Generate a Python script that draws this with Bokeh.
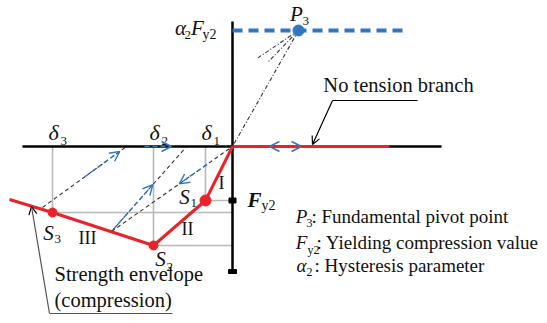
from bokeh.plotting import figure
from bokeh.models import Range1d, Arrow, OpenHead
from bokeh.core.properties import value
from bokeh.embed import file_html
from bokeh.resources import INLINE

# ---- schematic data (displacement x, force y; compression negative) ----
env_x = [0, -27, -79, -180, -223]          # origin, S1, S2, S3, tail
env_y = [0, -54, -99, -66, -53]
delta = [-27, -79, -180]                   # delta1, delta2, delta3
S_y = [-54, -99, -66]                      # S1, S2, S3 force
Fy2 = -54
p3_x = 66
alpha2_Fy2 = 116
axis_x = [-210, 209]
axis_y = [-125, 125]
no_tension_end = 157
pivot_line_end = 170
# unloading / reloading lines: start on envelope, end on displacement axis
unl_x0 = [-190, -121, -121]
unl_y0 = [-61, -85, -85]
unl_x1 = [-106, -46, 0]
ray_frac = [0.24, 0.28, 1.0]               # drawn part of pivot rays from P3
# blue path arrows as fractions along the unloading lines (start, end)
arrow_frac = [(0.5, 0.92), (0.02, 0.55), (0.79, 0.56)]
axis_arrow = (-88, -61)
chevron_c, chevron_l, chevron_r = 53, 37, 69

RED = "#e8232a"
BLUE = "#2f77c0"
GREY = "#b8b8b8"
DARK = "#333333"
FONT = value("Liberation Serif")

p = figure(width=538, height=314, x_range=Range1d(-232, 306), y_range=Range1d(-168, 146),
           output_backend="svg", toolbar_location=None, x_axis_location=None,
           y_axis_location=None, min_border=0, outline_line_color=None)
p.grid.visible = False

# grey projection lines
for d, s in zip(delta, S_y):
    p.line([d, d], [0, s], color=GREY, line_width=1.6)
    p.line([d, 0], [s, s], color=GREY, line_width=1.6)

# unloading dashed lines
for x0, y0, x1 in zip(unl_x0, unl_y0, unl_x1):
    p.line([x0, x1], [y0, 0], color=DARK, line_width=1.1, line_dash="4 3")

# pivot rays from P3
for x1, f in zip(unl_x1, ray_frac):
    xe = p3_x + (x1 - p3_x) * f
    ye = alpha2_Fy2 + (0 - alpha2_Fy2) * f
    p.line([p3_x, xe], [alpha2_Fy2, ye], color=DARK, line_width=1.1, line_dash="4 2 1 2")

# axes
p.line(axis_x, [0, 0], color="black", line_width=2.5)
p.line([0, 0], axis_y, color="black", line_width=2.5)
p.rect(x=[0], y=[Fy2], width=7, height=5, width_units="screen", height_units="screen", color="black")
p.rect(x=[0], y=[axis_y[0]], width=8, height=4, width_units="screen", height_units="screen", color="black")

# red branches
p.line([0, no_tension_end], [0, 0], color=RED, line_width=3)
p.line(env_x, env_y, color=RED, line_width=3)
p.scatter(delta[1:], S_y[1:], size=9, color=RED)
p.scatter([delta[0]], [S_y[0]], size=11, color=RED)

# pivot level
p.line([0, pivot_line_end], [alpha2_Fy2, alpha2_Fy2], color=BLUE, line_width=4, line_dash="10 6")
p.scatter([p3_x], [alpha2_Fy2], size=11, color=BLUE)

# blue path arrows
for (x0, y0, x1), (fa, fb) in zip(zip(unl_x0, unl_y0, unl_x1), arrow_frac):
    xs, ys = x0 + (x1 - x0) * fa, y0 + (0 - y0) * fa
    xe, ye = x0 + (x1 - x0) * fb, y0 + (0 - y0) * fb
    p.add_layout(Arrow(end=OpenHead(size=10, line_color=BLUE, line_width=1.4),
                       x_start=xs, y_start=ys, x_end=xe, y_end=ye,
                       line_color=BLUE, line_width=1.4, line_dash="5 3"))
p.add_layout(Arrow(end=OpenHead(size=10, line_color=BLUE, line_width=1.4),
                   x_start=axis_arrow[0], y_start=0, x_end=axis_arrow[1], y_end=0,
                   line_color=BLUE, line_width=1.4, line_dash="5 3"))
for xe in (chevron_l, chevron_r):
    p.add_layout(Arrow(end=OpenHead(size=10, line_color=BLUE, line_width=1.4),
                       x_start=chevron_c, y_start=0, x_end=xe, y_end=0,
                       line_alpha=0))

# annotation leaders
p.line([185, 100], [46, 46], color="black", line_width=1.2)
p.add_layout(Arrow(end=OpenHead(size=8, line_color="black", line_width=1.2),
                   x_start=100, y_start=46, x_end=80, y_end=2, line_color="black", line_width=1.2))
p.line([-60, -183], [-167, -167], color="#555", line_width=1.2)
p.add_layout(Arrow(end=OpenHead(size=8, line_color="black", line_width=1.2),
                   x_start=-183, y_start=-167, x_end=-201, y_end=-60, line_color="#555", line_width=1.2))


def label(x, y, s, size, style="normal", align="center"):
    p.text(x=[x], y=[y], text=[s], text_font=FONT, text_font_size=f"{size}px",
           text_font_style=style, text_align=align, text_baseline="middle", text_color="#111")


# alpha2 Fy2
label(-52, 119, "α", 21, "italic")
label(-48, 112, "2", 13, "normal", "left")
label(-35, 119, "F", 21, "italic")
label(-30, 112, "y2", 14, "normal", "left")
# P3
label(p3_x - 2, 133, "P", 21, "italic")
label(p3_x + 4, 126, "3", 13, "normal", "left")
# deltas
for i, d in enumerate(delta):
    label(d + 1, 14, "δ", 22, "italic")
    label(d + 8, 6, str(i + 1), 13, "normal", "left")
# S labels
label(delta[0] - 21, S_y[0] + 4, "S", 21, "italic")
label(delta[0] - 15, S_y[0] - 2, "1", 13, "normal", "left")
label(delta[1] + 7, S_y[1] - 13, "S", 21, "italic")
label(delta[1] + 13, S_y[1] - 21, "2", 13, "normal", "left")
label(delta[2] - 4, S_y[2] - 20, "S", 21, "italic")
label(delta[2] + 2, S_y[2] - 26, "3", 13, "normal", "left")
# segment numerals
label(-11, -36, "I", 18)
label(-45, -82, "II", 18)
label(-145, -91, "III", 18)
# Fy2 on axis
label(22, Fy2 + 1, "F", 21, "bold italic")
label(29, Fy2 - 5, "y2", 14, "normal", "left")
# annotations
label(166, 62, "No tension branch", 20.5)
label(-178, -127, "Strength envelope", 20.5, "normal", "left")
label(-178, -153, "(compression)", 20.5, "normal", "left")
# legend
label(69, -70, "P", 19, "italic")
label(74, -76, "3", 12, "normal", "left")
label(79, -70, ": Fundamental pivot point", 19, "normal", "left")
label(69, -96, "F", 19, "italic")
label(75, -103, "y2", 12, "normal", "left")
label(84, -96, ": Yielding compression value", 19, "normal", "left")
label(69, -119, "α", 19, "italic")
label(74, -125, "2", 12, "normal", "left")
label(82, -119, ": Hysteresis parameter", 19, "normal", "left")

open("out.html", "w").write(file_html(p, INLINE))
